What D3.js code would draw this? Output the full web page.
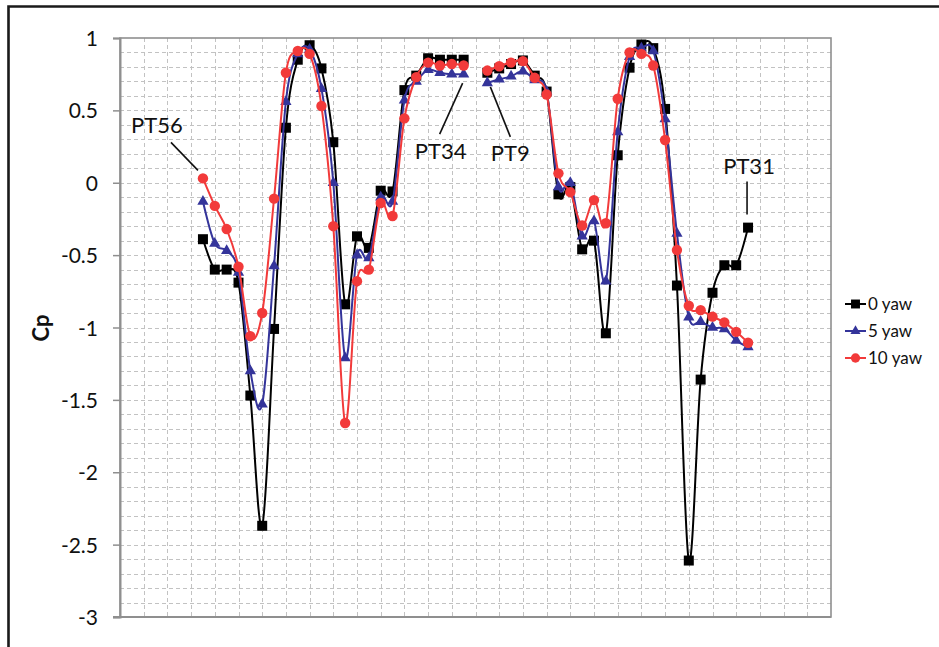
<!DOCTYPE html>
<html>
<head>
<meta charset="utf-8">
<script src="https://cdn.jsdelivr.net/npm/d3@7/dist/d3.min.js"></script>
<style>
  html, body { margin: 0; padding: 0; background: #fff; }
  svg { display: block; }
  text { font-family: Lato, "Open Sans", sans-serif; fill: #111; }
</style>
</head>
<body>
<svg id="chart" width="939" height="647"></svg>
<script>
// Pressure tap positions along the section (gap at 30 separates the two surfaces)
const tapIndex = [7, 8, 9, 10, 11, 12, 13, 14, 15, 16, 17, 18, 19, 20, 21, 22, 23, 24, 25, 26, 27, 28, 29,
                  30,
                  31, 32, 33, 34, 35, 36, 37, 38, 39, 40, 41, 42, 43, 44, 45, 46, 47, 48, 49, 50, 51, 52, 53];

// Cp at 0 degrees yaw
const cpYaw0 = [-0.39, -0.60, -0.60, -0.69, -1.47, -2.37, -1.01, 0.38, 0.85, 0.95, 0.79, 0.28, -0.84, -0.37, -0.45, -0.055, -0.06, 0.64, 0.74, 0.86, 0.85, 0.85, 0.85,
                null,
                0.76, 0.79, 0.82, 0.845, 0.74, 0.63, -0.08, -0.03, -0.46, -0.40, -1.04, 0.19, 0.795, 0.955, 0.93, 0.51, -0.71, -2.61, -1.36, -0.76, -0.57, -0.57, -0.31];

// Cp at 5 degrees yaw
const cpYaw5 = [-0.13, -0.42, -0.47, -0.62, -1.30, -1.53, -0.575, 0.56, 0.89, 0.92, 0.65, 0.0, -1.21, -0.50, -0.52, -0.10, -0.13, 0.57, 0.70, 0.78, 0.76, 0.75, 0.75,
                null,
                0.69, 0.715, 0.735, 0.77, 0.71, 0.63, -0.03, 0.0, -0.37, -0.265, -0.68, 0.35, 0.87, 0.93, 0.91, 0.44, -0.35, -0.93, -0.96, -1.00, -1.01, -1.09, -1.135];

// Cp at 10 degrees yaw
const cpYaw10 = [0.03, -0.16, -0.32, -0.58, -1.06, -0.90, -0.11, 0.76, 0.91, 0.89, 0.53, -0.30, -1.66, -0.68, -0.60, -0.14, -0.23, 0.445, 0.73, 0.83, 0.81, 0.82, 0.81,
                 null,
                 0.775, 0.805, 0.83, 0.84, 0.725, 0.61, 0.065, -0.065, -0.295, -0.12, -0.28, 0.58, 0.90, 0.89, 0.81, 0.295, -0.465, -0.85, -0.88, -0.925, -0.965, -1.03, -1.105];

const seriesNames = ["0 yaw", "5 yaw", "10 yaw"];
const yTickValues = [1, 0.5, 0, -0.5, -1, -1.5, -2, -2.5, -3];

// Tap labels: which series/point each leader line points at
const tapLabels = [
  { text: "PT56", series: 2, tap: 7 },
  { text: "PT34", series: 1, tap: 29 },
  { text: "PT9",  series: 1, tap: 31 },
  { text: "PT31", series: 0, tap: 53 }
];

const seriesStyle = [
  { color: "#000000", marker: d3.symbolSquare,   size: 100 },
  { color: "#34349a", marker: d3.symbolTriangle, size: 55 },
  { color: "#f23a3a", marker: d3.symbolCircle,   size: 85 }
];

const svg = d3.select("#chart");
const W = 939, H = 647;
const plot = { left: 120, right: 831, top: 38, bottom: 617 };

svg.append("rect").attr("width", W).attr("height", H).attr("fill", "#fff");

// Outer frame (only its top and left edges fall inside the page)
svg.append("path")
  .attr("d", `M8.5,${H + 5} V6.5 H${W + 5}`)
  .attr("fill", "none").attr("stroke", "#1a1a1a").attr("stroke-width", 2.6);

const x = d3.scaleLinear().domain([0, 60]).range([plot.left, plot.right]);
const y = d3.scaleLinear().domain([-3, 1]).range([plot.bottom, plot.top]);

// Dashed grid
const grid = svg.append("g").attr("stroke", "#c2c2c2").attr("stroke-width", 1)
  .attr("stroke-dasharray", "4,3");
grid.selectAll("line.h").data(d3.range(-29, 10).map(v => v / 10))
  .join("line").attr("class", "h")
  .attr("x1", plot.left).attr("x2", plot.right)
  .attr("y1", d => Math.round(y(d)) + 0.5).attr("y2", d => Math.round(y(d)) + 0.5);
grid.selectAll("line.v").data(d3.range(2, 60, 2))
  .join("line").attr("class", "v")
  .attr("y1", plot.top).attr("y2", plot.bottom)
  .attr("x1", d => Math.round(x(d)) + 0.5).attr("x2", d => Math.round(x(d)) + 0.5);

// Plot border
svg.append("rect")
  .attr("x", plot.left).attr("y", plot.top)
  .attr("width", plot.right - plot.left).attr("height", plot.bottom - plot.top)
  .attr("fill", "none").attr("stroke", "#8f8f8f").attr("stroke-width", 1.6);

// Y axis (plain hyphen for negatives)
const yAxis = d3.axisLeft(y).tickValues(yTickValues).tickSize(7).tickPadding(15)
  .tickFormat(d => String(d));
const yg = svg.append("g").attr("transform", `translate(${plot.left},0)`).call(yAxis);
yg.select(".domain").attr("stroke", "#8f8f8f").attr("stroke-width", 2);
yg.selectAll(".tick line").attr("stroke", "#8f8f8f").attr("stroke-width", 1.5);
yg.selectAll(".tick text").attr("font-family", "Lato, 'Open Sans', sans-serif")
  .attr("font-size", 21).attr("fill", "#111").attr("dy", "0.36em");

// X axis line
svg.append("line")
  .attr("x1", plot.left - 7).attr("x2", plot.right)
  .attr("y1", plot.bottom).attr("y2", plot.bottom)
  .attr("stroke", "#8f8f8f").attr("stroke-width", 2);

// Y axis title
svg.append("text")
  .attr("transform", `translate(49,328) rotate(-90)`)
  .attr("text-anchor", "middle")
  .attr("font-size", 22).attr("font-weight", "bold")
  .text("Cp");

const allSeries = [cpYaw0, cpYaw5, cpYaw10];
const line = d3.line()
  .defined(d => d.v !== null)
  .x(d => x(d.i)).y(d => y(d.v))
  .curve(d3.curveCatmullRom.alpha(0));

allSeries.forEach((vals, s) => {
  const pts = tapIndex.map((i, k) => ({ i, v: vals[k] }));
  const st = seriesStyle[s];
  const g = svg.append("g");
  g.append("path").datum(pts)
    .attr("d", line).attr("fill", "none")
    .attr("stroke", st.color).attr("stroke-width", 2);
  g.selectAll("path.m").data(pts.filter(d => d.v !== null))
    .join("path").attr("class", "m")
    .attr("transform", d => `translate(${x(d.i)},${y(d.v)})`)
    .attr("d", d3.symbol().type(st.marker).size(st.size))
    .attr("fill", st.color);
});

// Tap annotations with leader lines
const labelLayout = {
  PT56: { dx: -46, dy: -45, x1: -32, y1: -36, x2: -5, y2: -8 },
  PT34: { dx: -23, dy: 85,  x1: -24, y1: 60,  x2: -1, y2: 9 },
  PT9:  { dx: 23,  dy: 78,  x1: 23,  y1: 54,  x2: 3,  y2: 4 },
  PT31: { dx: 1,   dy: -54, x1: -1,  y1: -46, x2: -1, y2: -13 }
};
tapLabels.forEach(lb => {
  const k = tapIndex.indexOf(lb.tap);
  const px = x(lb.tap), py = y(allSeries[lb.series][k]);
  const L = labelLayout[lb.text];
  svg.append("line")
    .attr("x1", px + L.x1).attr("y1", py + L.y1)
    .attr("x2", px + L.x2).attr("y2", py + L.y2)
    .attr("stroke", "#111").attr("stroke-width", 1.6);
  svg.append("text")
    .attr("x", px + L.dx).attr("y", py + L.dy)
    .attr("text-anchor", "middle").attr("font-size", 22)
    .text(lb.text);
});

// Legend
const legend = svg.append("g").attr("transform", "translate(845,304)");
seriesNames.forEach((name, s) => {
  const st = seriesStyle[s];
  const row = legend.append("g").attr("transform", `translate(0,${s * 27})`);
  row.append("line").attr("x1", 0).attr("x2", 21).attr("y1", 0).attr("y2", 0)
    .attr("stroke", st.color).attr("stroke-width", 2);
  row.append("path").attr("transform", "translate(10.5,0)")
    .attr("d", d3.symbol().type(st.marker).size(st.size * 0.8))
    .attr("fill", st.color);
  row.append("text").attr("x", 23).attr("y", 0).attr("dy", "0.35em")
    .attr("font-size", 17).text(name);
});
</script>
</body>
</html>
